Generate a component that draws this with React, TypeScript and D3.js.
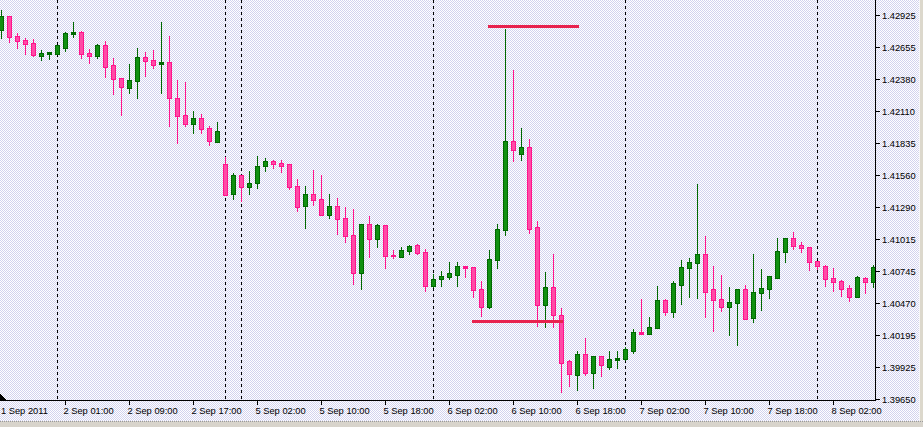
import React from "react";
import * as d3 from "d3";

// ---- data (hourly EURUSD-like bars, 1 Sep 17:00 .. 8 Sep 07:00) ----
const opens = [
  1.42802, 1.42921, 1.42750, 1.42716, 1.42691, 1.42580, 1.42597, 1.42597, 1.42648, 1.42767,
  1.42784, 1.42606, 1.42580, 1.42674, 1.42503, 1.42393, 1.42307, 1.42367, 1.42572, 1.42546,
  1.42512, 1.42529, 1.42222, 1.42077, 1.42001, 1.42052, 1.41967, 1.41847, 1.41660, 1.41405,
  1.41566, 1.41464, 1.41498, 1.41643, 1.41686, 1.41669, 1.41660, 1.41473, 1.41302, 1.41405,
  1.41362, 1.41226, 1.41302, 1.41200, 1.41055, 1.40732, 1.41149, 1.41021, 1.41141, 1.40885,
  1.40868, 1.40919, 1.40970, 1.40911, 1.40621, 1.40681, 1.40698, 1.40715, 1.40791, 1.40783,
  1.40595, 1.40442, 1.40842, 1.41098, 1.41856, 1.41745, 1.41805, 1.41123, 1.40459, 1.40612,
  1.40374, 1.39982, 1.39863, 1.40042, 1.39880, 1.40025, 1.39931, 1.39991, 1.39999, 1.40067,
  1.40229, 1.40212, 1.40263, 1.40502, 1.40399, 1.40629, 1.40774, 1.40817, 1.40893, 1.40595,
  1.40510, 1.40442, 1.40476, 1.40595, 1.40348, 1.40561, 1.40595, 1.40689, 1.40911, 1.41030,
  1.40970, 1.40953, 1.40834, 1.40791, 1.40689, 1.40664, 1.40604, 1.40527, 1.40689, 1.40655,
];
const highs = [
  1.42972, 1.42921, 1.42776, 1.42733, 1.42725, 1.42631, 1.42614, 1.42674, 1.42784, 1.42870,
  1.42793, 1.42640, 1.42682, 1.42708, 1.42563, 1.42393, 1.42512, 1.42648, 1.42614, 1.42631,
  1.42870, 1.42750, 1.42376, 1.42359, 1.42112, 1.42086, 1.41984, 1.42018, 1.41720, 1.41583,
  1.41566, 1.41600, 1.41728, 1.41711, 1.41694, 1.41694, 1.41660, 1.41532, 1.41473, 1.41609,
  1.41566, 1.41405, 1.41371, 1.41294, 1.41277, 1.41149, 1.41217, 1.41149, 1.41141, 1.40928,
  1.40953, 1.40970, 1.40979, 1.40936, 1.40723, 1.40749, 1.40825, 1.40825, 1.40791, 1.40783,
  1.40664, 1.40928, 1.41149, 1.42810, 1.42461, 1.41967, 1.41873, 1.41175, 1.40740, 1.40893,
  1.40434, 1.39991, 1.40067, 1.40178, 1.40025, 1.40025, 1.40067, 1.40067, 1.40101, 1.40255,
  1.40510, 1.40357, 1.40621, 1.40510, 1.40664, 1.40842, 1.40859, 1.41490, 1.41047, 1.40791,
  1.40715, 1.40612, 1.40595, 1.40629, 1.40893, 1.40766, 1.40706, 1.41030, 1.41030, 1.41081,
  1.40996, 1.40953, 1.40834, 1.40800, 1.40774, 1.40672, 1.40629, 1.40706, 1.40698, 1.40800,
];
const lows = [
  1.42733, 1.42699, 1.42648, 1.42597, 1.42580, 1.42546, 1.42554, 1.42597, 1.42623, 1.42742,
  1.42563, 1.42520, 1.42563, 1.42401, 1.42256, 1.42077, 1.42265, 1.42222, 1.42410, 1.42478,
  1.42265, 1.41984, 1.41839, 1.41984, 1.41924, 1.41924, 1.41822, 1.41847, 1.41396, 1.41362,
  1.41345, 1.41405, 1.41456, 1.41600, 1.41626, 1.41592, 1.41447, 1.41260, 1.41115, 1.41311,
  1.41226, 1.41200, 1.41064, 1.40996, 1.40638, 1.40595, 1.40868, 1.40953, 1.40774, 1.40859,
  1.40868, 1.40893, 1.40893, 1.40578, 1.40612, 1.40621, 1.40681, 1.40621, 1.40698, 1.40527,
  1.40365, 1.40434, 1.40774, 1.41055, 1.41686, 1.41694, 1.41072, 1.40280, 1.40272, 1.40272,
  1.39710, 1.39769, 1.39735, 1.39863, 1.39752, 1.39854, 1.39914, 1.39922, 1.39991, 1.40050,
  1.40212, 1.40212, 1.40263, 1.40374, 1.40357, 1.40468, 1.40527, 1.40519, 1.40357, 1.40238,
  1.40408, 1.40204, 1.40118, 1.40340, 1.40314, 1.40417, 1.40519, 1.40689, 1.40825, 1.40936,
  1.40911, 1.40757, 1.40766, 1.40621, 1.40578, 1.40536, 1.40493, 1.40527, 1.40561, 1.40612,
];
const closes = [
  1.42921, 1.42742, 1.42708, 1.42682, 1.42589, 1.42606, 1.42614, 1.42674, 1.42776, 1.42784,
  1.42597, 1.42580, 1.42674, 1.42486, 1.42384, 1.42316, 1.42376, 1.42572, 1.42537, 1.42503,
  1.42529, 1.42222, 1.42069, 1.42001, 1.42052, 1.41958, 1.41856, 1.41941, 1.41396, 1.41566,
  1.41464, 1.41498, 1.41643, 1.41686, 1.41660, 1.41643, 1.41464, 1.41294, 1.41405, 1.41353,
  1.41226, 1.41302, 1.41192, 1.41047, 1.40732, 1.41149, 1.41021, 1.41141, 1.40876, 1.40876,
  1.40928, 1.40962, 1.40902, 1.40621, 1.40681, 1.40706, 1.40732, 1.40791, 1.40774, 1.40587,
  1.40442, 1.40851, 1.41106, 1.41856, 1.41779, 1.41805, 1.41106, 1.40459, 1.40612, 1.40374,
  1.39965, 1.39871, 1.40042, 1.39880, 1.40025, 1.39948, 1.39999, 1.40008, 1.40084, 1.40229,
  1.40212, 1.40272, 1.40502, 1.40399, 1.40646, 1.40783, 1.40825, 1.40893, 1.40570, 1.40502,
  1.40442, 1.40485, 1.40595, 1.40340, 1.40570, 1.40604, 1.40706, 1.40919, 1.41030, 1.40962,
  1.40945, 1.40825, 1.40791, 1.40681, 1.40655, 1.40595, 1.40527, 1.40698, 1.40655, 1.40783,
];

const priceTicks = [
  "1.42925", "1.42655", "1.42380", "1.42110", "1.41835", "1.41560", "1.41290",
  "1.41015", "1.40745", "1.40470", "1.40195", "1.39925", "1.39650",
];
const timeTickBars = [0, 8, 16, 24, 32, 40, 48, 56, 64, 72, 80, 88, 96, 104];
const timeTickLabels = [
  "1 Sep 2011", "2 Sep 01:00", "2 Sep 09:00", "2 Sep 17:00", "5 Sep 02:00", "5 Sep 10:00",
  "5 Sep 18:00", "6 Sep 02:00", "6 Sep 10:00", "6 Sep 18:00", "7 Sep 02:00", "7 Sep 10:00",
  "7 Sep 18:00", "8 Sep 02:00",
];
const separatorBars = [7, 28, 30, 54, 78, 102];
// horizontal drawn segments (start bar, end bar, price)
const levelStartBars = [61, 59];
const levelEndBars = [72, 70];
const levelPrices = [1.42836, 1.40318];

const W = 923;
const H = 427;
const AXIS_X = 875.5;
const AXIS_Y = 400.5;
const FONT = "'Liberation Sans', Arial, sans-serif";

const BULL_EDGE = "#006800";
const BULL_FILL = "#119011";
const BEAR_EDGE = "#ff148c";
const BEAR_FILL = "#ff4aa6";

export default function App() {
  const x = d3.scaleLinear().domain([0, 1]).range([1.5, 9.5]);
  const y = d3.scaleLinear().domain([1.3965, 1.42925]).range([399.5, 15.5]);
  const n = opens.length;
  const bars = d3.range(n);

  const hGrid = d3.range(15.5, 400, 16);
  const vGrid = d3.range(25.5, 875, 32);

  return (
    <svg
      width={W}
      height={H}
      style={{ position: "absolute", left: 0, top: 0, display: "block" }}
      shapeRendering="crispEdges"
    >
      <defs>
        <pattern id="chk" width="2" height="2" patternUnits="userSpaceOnUse">
          <rect width="2" height="2" fill="#ffffff" />
          <rect x="0" y="0" width="1" height="1" fill="#d2d2ee" />
          <rect x="1" y="1" width="1" height="1" fill="#d2d2ee" />
        </pattern>
        <clipPath id="plot">
          <rect x="0" y="0" width={875} height={400} />
        </clipPath>
      </defs>
      <rect width={W} height={H} fill="url(#chk)" />

      {/* grid */}
      <g stroke="#ffffff" strokeDasharray="1,1" strokeWidth={1}>
        {hGrid.map((gy) => (
          <line key={"h" + gy} x1={0} x2={875} y1={gy} y2={gy} />
        ))}
        {vGrid.map((gx) => (
          <line key={"v" + gx} x1={gx} x2={gx} y1={0} y2={400} />
        ))}
      </g>

      {/* day separators */}
      <g stroke="#000" strokeDasharray="3,3" strokeWidth={1}>
        {separatorBars.map((b) => (
          <line key={"s" + b} x1={x(b)} x2={x(b)} y1={0} y2={400} />
        ))}
      </g>

      {/* candles */}
      <g clipPath="url(#plot)">
        {bars.map((i) => {
          const bull = closes[i] >= opens[i];
          const cx = x(i);
          const yH = Math.round(y(highs[i]));
          const yL = Math.round(y(lows[i]));
          const yT = Math.round(y(Math.max(opens[i], closes[i])));
          const yB = Math.round(y(Math.min(opens[i], closes[i])));
          const h = Math.max(1, yB - yT);
          const edge = bull ? BULL_EDGE : BEAR_EDGE;
          const fill = bull ? BULL_FILL : BEAR_FILL;
          return (
            <g key={"c" + i}>
              <rect x={cx - 0.5} y={yH} width={1} height={Math.max(1, yL - yH + 1)} fill={edge} />
              <rect x={cx - 2.5} y={yT} width={5} height={h + 1} fill={edge} />
              {h > 2 && <rect x={cx - 1.5} y={yT + 1} width={3} height={h - 1} fill={fill} />}
            </g>
          );
        })}
      </g>

      {/* drawn level segments */}
      <g stroke="#e8234e" strokeWidth={3} strokeLinecap="square">
        {levelPrices.map((p, i) => (
          <line
            key={"l" + i}
            x1={x(levelStartBars[i])}
            x2={x(levelEndBars[i])}
            y1={Math.round(y(p)) + 0.5}
            y2={Math.round(y(p)) + 0.5}
          />
        ))}
      </g>

      {/* axes */}
      <line x1={0} x2={AXIS_X + 0.5} y1={AXIS_Y} y2={AXIS_Y} stroke="#000" />
      <line x1={AXIS_X} x2={AXIS_X} y1={0} y2={AXIS_Y} stroke="#000" />
      <polygon points="0,394 0,401 7,401" fill="#000" />

      {priceTicks.map((t) => {
        const ty = y(+t);
        return (
          <g key={"p" + t}>
            <line x1={876} x2={880} y1={ty} y2={ty} stroke="#000" />
            <text
              x={882}
              y={ty + 3.5}
              fontFamily={FONT}
              fontSize={9.3}
              fill="#000"
            >
              {t}
            </text>
          </g>
        );
      })}

      {timeTickBars.map((b, i) => {
        const tx = x(b);
        return (
          <g key={"t" + b}>
            {i > 0 && <line x1={tx} x2={tx} y1={401} y2={405} stroke="#000" />}
            <text
              x={Math.max(1, tx - 2)}
              y={414}
              fontFamily={FONT}
              fontSize={9.3}
              fill="#000"
            >
              {timeTickLabels[i]}
            </text>
          </g>
        );
      })}

      {/* window frame */}
      <rect x={919} y={0} width={4} height={H} fill="#dcd8cc" />
      <line x1={919.5} x2={919.5} y1={0} y2={H} stroke="#f6f6f6" />
      <rect x={0} y={421} width={W} height={6} fill="#d8d4cc" />
      <line x1={0} x2={W} y1={421.5} y2={421.5} stroke="#9a9a9a" strokeDasharray="1,1" />
    </svg>
  );
}
